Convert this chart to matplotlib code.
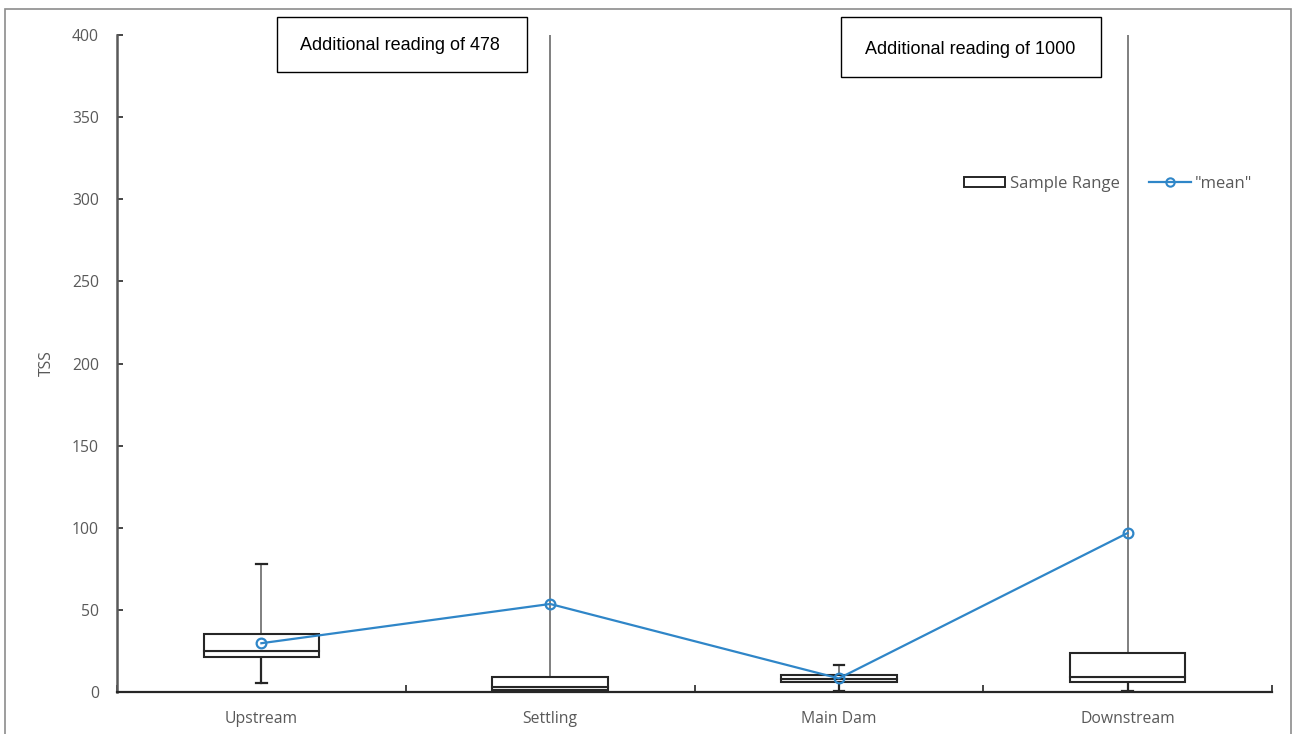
import matplotlib
matplotlib.use("Agg")
import matplotlib.pyplot as plt
from matplotlib.patches import Rectangle
from matplotlib.lines import Line2D

# TSS summary per sampling site
sites = ["Upstream", "Settling", "Main Dam", "Downstream"]
minimum = [5.7, 0.5, 0.8, 0.8]
q1 = [21.1, 1.2, 5.9, 5.9]
median = [25.0, 2.8, 8.1, 9.0]
q3 = [35.2, 9.3, 10.3, 23.5]
maximum = [78.0, 478.0, 16.4, 1000.0]
mean = [29.7, 53.6, 8.3, 96.8]
y_ticks = [0, 50, 100, 150, 200, 250, 300, 350, 400]
notes = ["Additional reading of 478", "Additional reading of 1000"]

plt.rcParams["font.family"] = ["Open Sans", "DejaVu Sans"]
grey = "#595959"
blue = "#2f86c8"
fs = 11.3

fig = plt.figure(figsize=(12.96, 7.34), dpi=100)
ax = fig.add_axes([117 / 1296, 42 / 734, (1272 - 117) / 1296, (699 - 42) / 734])

x = list(range(len(sites)))
width = 0.4

# boxes: lower part q1->median, upper part median->q3
lower_h = [m - a for m, a in zip(median, q1)]
upper_h = [b - m for b, m in zip(q3, median)]
ax.bar(x, lower_h, bottom=q1, width=width, facecolor="white",
       edgecolor="#262626", linewidth=1.5, zorder=3)
ax.bar(x, upper_h, bottom=median, width=width, facecolor="white",
       edgecolor="#262626", linewidth=1.5, zorder=3)

# whiskers
cap = 0.018
for xi, lo, a, b, hi in zip(x, minimum, q1, q3, maximum):
    ax.plot([xi, xi], [b, hi], color="#7f7f7f", lw=1.4, zorder=2, clip_on=True)
    if hi <= 400:
        ax.plot([xi - cap, xi + cap], [hi, hi], color="#262626", lw=1.6, zorder=2)
    ax.plot([xi, xi], [lo, a], color="#262626", lw=1.6, zorder=2)
    ax.plot([xi - cap, xi + cap], [lo, lo], color="#262626", lw=1.6, zorder=2)

# mean line
ax.plot(x, mean, color=blue, lw=1.6, marker="o", markersize=7,
        markerfacecolor="none", markeredgecolor=blue, markeredgewidth=1.6,
        zorder=4)

ax.set_xlim(-0.5, len(sites) - 0.5)
ax.set_ylim(0, 400)
ax.set_yticks(y_ticks)
ax.set_yticklabels([str(t) for t in y_ticks])
ax.set_xticks(x)
ax.set_xticklabels(sites)
ax.set_xticks([i - 0.5 for i in range(len(sites) + 1)], minor=True)

for s in ["top", "right"]:
    ax.spines[s].set_visible(False)
ax.spines["left"].set_color(grey)
ax.spines["left"].set_linewidth(1.8)
ax.spines["bottom"].set_color("#262626")
ax.spines["bottom"].set_linewidth(1.6)

ax.tick_params(axis="y", direction="in", length=4, width=1.2, color="#262626",
               labelcolor=grey, labelsize=fs, pad=13)
ax.tick_params(axis="x", which="major", length=0, labelcolor=grey,
               labelsize=fs, pad=14)
ax.tick_params(axis="x", which="minor", direction="in", length=5, width=1.2,
               color="#262626")

ax.set_ylabel("TSS", color=grey, fontsize=fs, labelpad=12)

# legend
lfs = 12
handles = [Rectangle((0, 0), 1, 1, facecolor="white", edgecolor="#262626", lw=1.4),
           Line2D([], [], color=blue, lw=1.6, marker="o", markersize=6,
                  markerfacecolor="none", markeredgecolor=blue, markeredgewidth=1.5)]
leg = ax.legend(handles, ["Sample Range", '"mean"'], ncol=2, frameon=False,
                loc="center left", bbox_to_anchor=(952 / 1296, (734 - 184) / 734),
                bbox_transform=fig.transFigure, fontsize=lfs, handlelength=2.5,
                handleheight=0.6, columnspacing=1.8, handletextpad=0.25,
                borderpad=0.2)
for t in leg.get_texts():
    t.set_color(grey)

# annotation boxes
fig.patches.append(Rectangle((277 / 1296, (734 - 72) / 734), 250 / 1296, 55 / 734,
                             transform=fig.transFigure, facecolor="white",
                             edgecolor="black", lw=1.0, zorder=5))
fig.text(400 / 1296, (734 - 46) / 734, notes[0], ha="center", va="center",
         fontsize=13, family=["Liberation Sans"], zorder=6)
fig.patches.append(Rectangle((841 / 1296, (734 - 77) / 734), 260 / 1296, 60 / 734,
                             transform=fig.transFigure, facecolor="white",
                             edgecolor="black", lw=1.0, zorder=5))
fig.text(970 / 1296, (734 - 49) / 734, notes[1], ha="center", va="center",
         fontsize=13, family=["Liberation Sans"], zorder=6)

# outer frame
fig.patches.append(Rectangle((5 / 1296, -0.01), 1286 / 1296, (734 - 9) / 734 + 0.01,
                             transform=fig.transFigure, facecolor="none",
                             edgecolor="#8c8c8c", lw=1.2, zorder=0))

fig.savefig("out.png", dpi=100)
